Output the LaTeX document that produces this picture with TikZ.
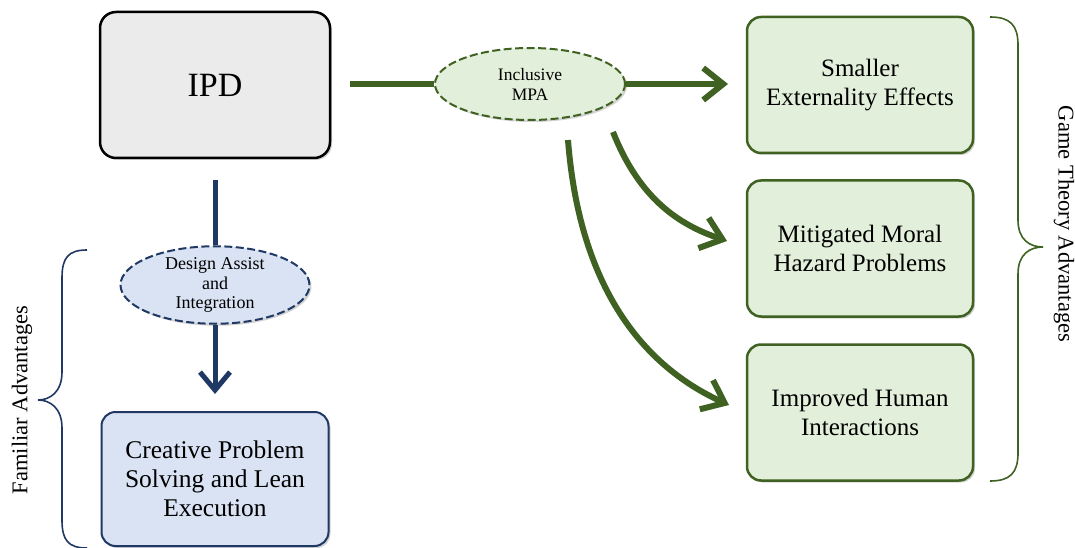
\documentclass[tikz,border=0pt]{standalone}
\usepackage{fontspec}
\setmainfont{Liberation Serif}
\usetikzlibrary{arrows.meta,shadows,shapes.geometric}
\definecolor{gfill}{HTML}{E2EFDA}
\definecolor{gline}{HTML}{3F6121}
\definecolor{bfill}{HTML}{DAE3F3}
\definecolor{bline}{HTML}{203864}
\definecolor{grayfill}{HTML}{EBEBEB}
\tikzset{
  shad/.style={drop shadow={opacity=0.35,shadow xshift=2pt,shadow yshift=-2pt}},
  boxg/.style={rounded corners=14pt,draw=gline,line width=2.5pt,fill=gfill,shad,
    minimum width=226pt,minimum height=136pt,align=center,
    font=\fontsize{25}{29}\selectfont},
  boxb/.style={rounded corners=14pt,draw=bline,line width=2pt,fill=bfill,shad,
    minimum width=227pt,minimum height=134pt,align=center,
    font=\fontsize{25.5}{29}\selectfont},
  boxgray/.style={rounded corners=16pt,draw=black,line width=2.5pt,fill=grayfill,shad,
    minimum width=230pt,minimum height=146pt,align=center,
    font=\fontsize{34}{38}\selectfont},
  ellg/.style={ellipse,draw=gline,dash pattern=on 8pt off 3.5pt,line width=2pt,fill=gfill,shad,
    minimum width=190pt,minimum height=72pt,inner sep=0pt,align=center,
    font=\fontsize{17.5}{20}\selectfont},
  ellb/.style={ellipse,draw=bline,dash pattern=on 8pt off 3.5pt,line width=2pt,fill=bfill,shad,
    minimum width=189pt,minimum height=70pt,inner sep=0pt,align=center,
    font=\fontsize{18}{19.5}\selectfont},
  garr/.style={draw=gline,line width=6pt,-{Straight Barb[length=20pt,width=32pt,line width=6pt]}},
  gline/.style={draw=gline,line width=6pt},
  barr/.style={draw=bline,line width=5pt,-{Straight Barb[length=18pt,width=30pt,line width=5pt]}},
  bline/.style={draw=bline,line width=5pt},
  lbl/.style={font=\fontsize{22.5}{24}\selectfont}
}
\begin{document}
\begin{tikzpicture}[x=1pt,y=-1pt]
\useasboundingbox (0,0) rectangle (1075,548);
% nodes
\node[boxgray] (ipd) at (215,85) {IPD};
\node[boxb] (cps) at (215,479) {Creative Problem\\Solving and Lean\\Execution};
\node[ellb] (dai) at (215,285) {Design Assist\\and\\Integration};
\node[ellg] (mpa) at (530,84) {Inclusive\\MPA};
\node[boxg] (s1) at (860,85) {Smaller\\Externality Effects};
\node[boxg] (s2) at (860,248.5) {Mitigated Moral\\Hazard Problems};
\node[boxg] (s3) at (860,412.5) {Improved Human\\Interactions};
% coordinates for free ends
\coordinate (ipdR) at (350,84);
\coordinate (ipdB) at (215,180);
\coordinate (c2s) at (613,132);
\coordinate (c3s) at (568,140);
\coordinate (t1) at (728,84);
\coordinate (tb) at (215,394);
\coordinate (t2) at (727,241);
\coordinate (t3) at (729,405);
% connectors
\draw[gline] (ipdR) -- (mpa.west);
\draw[garr] (mpa.east) -- (t1);
\draw[bline] (ipdB) -- (dai.north);
\draw[barr] (dai.south) -- (tb);
\draw[garr] (c2s) .. controls (640,200) and (680,225) .. (t2);
\draw[garr] (c3s) .. controls (578,270) and (630,360) .. (t3);
% braces
\draw[draw=bline,line width=1.6pt] (87,250) .. controls (68,250) and (62,258) .. (62,278)
  -- (62,372) .. controls (62,392) and (50,400) .. (38,400)
  .. controls (50,400) and (62,408) .. (62,428)
  -- (62,520) .. controls (62,540) and (68,548) .. (87,548);
\draw[draw=gline,line width=1.6pt] (990,17) .. controls (1010,17) and (1018,25) .. (1018,45)
  -- (1018,220) .. controls (1018,240) and (1030,247) .. (1043,247)
  .. controls (1030,247) and (1018,254) .. (1018,274)
  -- (1018,453) .. controls (1018,473) and (1010,481) .. (990,481);
\node[lbl,rotate=90] (fam) at (22,400) {Familiar Advantages};
\node[lbl,rotate=-90] (gta) at (1064,224) {Game Theory Advantages};
\end{tikzpicture}
\end{document}
